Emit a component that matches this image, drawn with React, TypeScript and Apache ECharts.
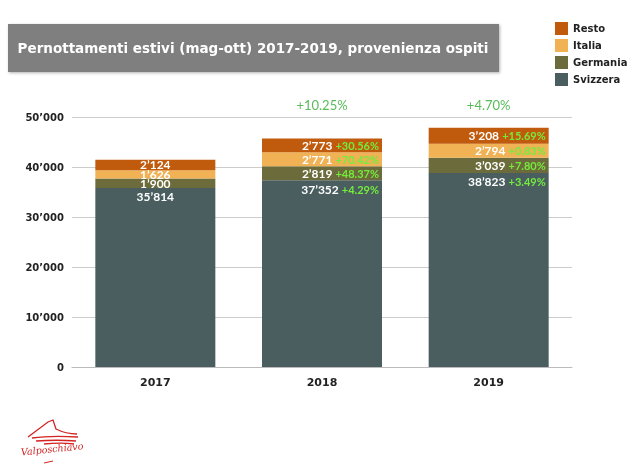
import React, { useEffect, useRef } from "react";
import * as echarts from "echarts";

const years = ["2017", "2018", "2019"];
const svizzera = [35814, 37352, 38823];
const germania = [1900, 2819, 3039];
const italia = [1626, 2771, 2794];
const resto = [2124, 2773, 3208];
const svizzeraPct = ["", "+4.29%", "+3.49%"];
const germaniaPct = ["", "+48.37%", "+7.80%"];
const italiaPct = ["", "+70.42%", "+0.83%"];
const restoPct = ["", "+30.56%", "+15.69%"];
const totalGrowth = ["", "+10.25%", "+4.70%"];
const growthLabelLevel = [52400, 52400, 52400];
const yTicks = [0, 10000, 20000, 30000, 40000, 50000];

const colors = {
  Resto: "#c05a0c",
  Italia: "#f0b255",
  Germania: "#6b6b3c",
  Svizzera: "#4a5e60",
};

const fmt = (n: number) => String(n).replace(/\B(?=(\d{3})+(?!\d))/g, "\u2019");

const FONT = "Lato";
const GEO = "'DejaVu Sans'";

function makeSeries(name: string, values: number[], pcts: string[], isBase: boolean) {
  return {
    name,
    type: "bar",
    stack: "total",
    barWidth: "72%",
    itemStyle: { color: (colors as any)[name] },
    data: values.map((v, i) => ({
      value: v,
      label: {
        show: true,
        position: i === 0 ? (isBase ? "insideTop" : "inside") : isBase ? "insideTopRight" : "insideRight",
        distance: 3,
        formatter: i === 0 ? `{v|${fmt(v)}}` : `{v|${fmt(v)}} {p|${pcts[i]}}`,
        rich: {
          v: { color: "#ffffff", fontWeight: "bold", fontSize: 12, fontFamily: FONT },
          p: { color: "#74ec3c", fontSize: 11, fontFamily: FONT, fontWeight: "bold" },
        },
      },
    })),
  };
}

export default function App() {
  const ref = useRef<HTMLDivElement>(null);
  useEffect(() => {
    if (!ref.current) return;
    const chart = echarts.init(ref.current, null, { renderer: "svg" });
    echarts.graphic.registerShape(
      "vpMountain",
      echarts.graphic.extendPath(
        "M2 19 L22 4 L27 2 L30 11 C36 14 44 16 51 16 M6 20 C20 18 36 18 52 19 M10 23 C24 22 38 22 50 23 M18 26 C28 25 40 25 48 26",
        {}
      )
    );
    chart.setOption({
      animation: false,
      textStyle: { fontFamily: FONT },
      grid: { left: 72, right: 68, top: 117, bottom: 107, containLabel: false },
      legend: {
        data: ["Resto", "Italia", "Germania", "Svizzera"],
        orient: "vertical",
        left: 550,
        top: 17,
        itemWidth: 13,
        itemHeight: 13,
        itemGap: 4,
        icon: "rect",
        textStyle: { fontSize: 10, color: "#222", fontWeight: "bold", fontFamily: GEO },
      },
      xAxis: {
        type: "category",
        data: years,
        axisLine: { lineStyle: { color: "#bbbbbb" } },
        axisTick: { show: false },
        axisLabel: { fontSize: 11, fontWeight: "bold", color: "#222", margin: 10, fontFamily: GEO },
      },
      yAxis: {
        type: "value",
        min: 0,
        max: 50000,
        interval: 10000,
        axisLine: { show: false },
        axisTick: { show: false },
        splitLine: { lineStyle: { color: "#cccccc" } },
        axisLabel: {
          fontSize: 10,
          fontWeight: "bold",
          color: "#222",
          margin: 8,
          fontFamily: GEO,
          formatter: (v: number) => (yTicks.includes(v) ? fmt(v) : ""),
        },
      },
      series: [
        makeSeries("Svizzera", svizzera, svizzeraPct, true),
        makeSeries("Germania", germania, germaniaPct, false),
        makeSeries("Italia", italia, italiaPct, false),
        makeSeries("Resto", resto, restoPct, false),
        {
          name: "growth",
          type: "scatter",
          clip: false,
          symbolSize: 0,
          silent: true,
          data: growthLabelLevel.map((v, i) => ({
            value: v,
            label: {
              show: totalGrowth[i] !== "",
              position: "inside",
              formatter: totalGrowth[i],
              color: "#2eaa2e",
              fontSize: 13,
              fontFamily: FONT,
            },
          })),
        },
      ],
      graphic: [
        {
          type: "rect",
          shape: { x: 8, y: 24, width: 491, height: 48 },
          style: { fill: "#7f7f7f", shadowBlur: 3, shadowColor: "rgba(0,0,0,0.3)", shadowOffsetX: 1, shadowOffsetY: 1 },
        },
        {
          type: "text",
          x: 253,
          y: 48,
          style: {
            text: "Pernottamenti estivi (mag-ott) 2017-2019, provenienza ospiti",
            fill: "#ffffff",
            font: `bold 13.5px ${GEO}`,
            align: "center",
            verticalAlign: "middle",
          },
        },
        {
          type: "vpMountain",
          x: 26,
          y: 418,
          scaleX: 1,
          scaleY: 1,
          style: { fill: "none", stroke: "#d42323", lineWidth: 1.3 },
        },
        {
          type: "text",
          x: 21,
          y: 452,
          rotation: 0.1,
          style: {
            text: "Valposchiavo",
            fill: "#d42323",
            font: "italic 9.5px 'DejaVu Serif'",
            verticalAlign: "middle",
          },
        },
        {
          type: "line",
          shape: { x1: 44, y1: 463, x2: 53, y2: 461 },
          style: { stroke: "#d42323", lineWidth: 1 },
        },
      ],
    });
    return () => chart.dispose();
  }, []);
  return <div ref={ref} style={{ position: "fixed", left: 0, top: 0, width: 640, height: 474 }} />;
}
